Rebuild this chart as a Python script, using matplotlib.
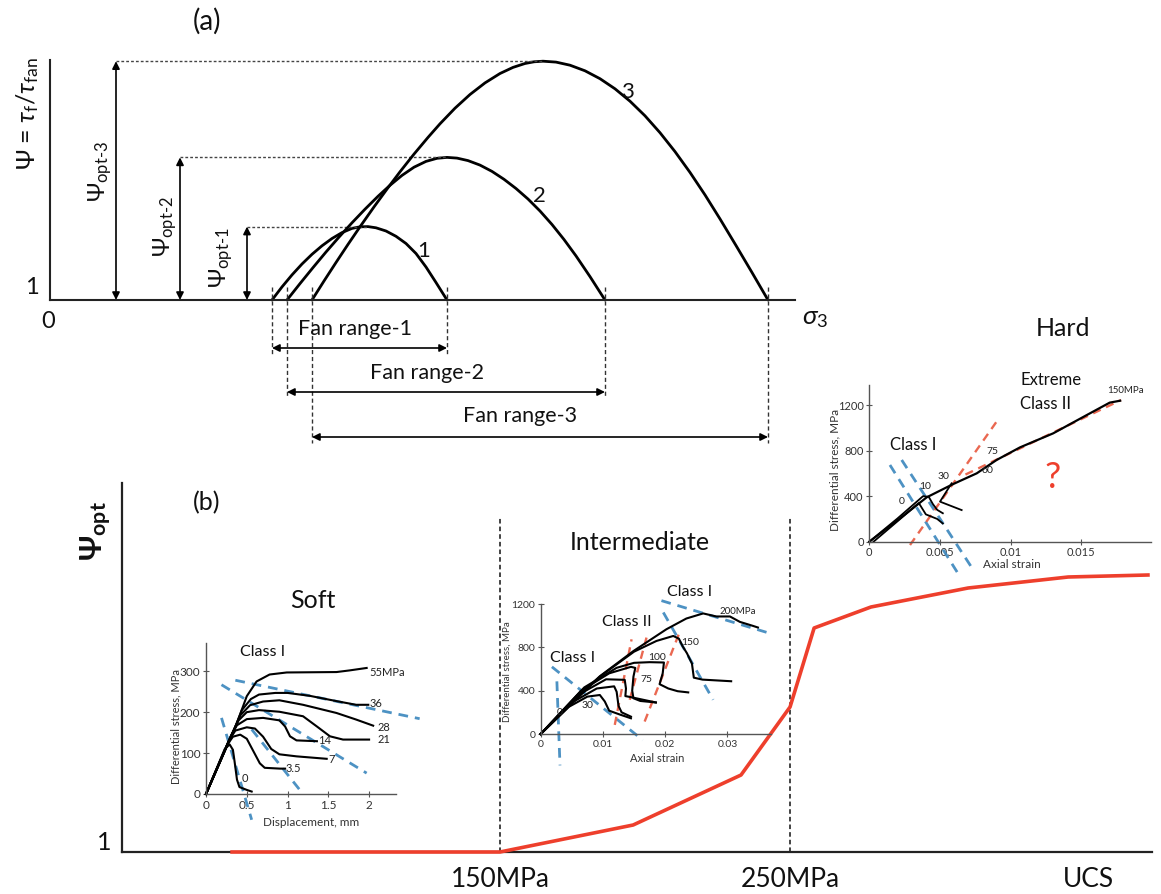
import matplotlib
matplotlib.use("Agg")
import matplotlib.pyplot as plt

W, H = 1161, 894
FONT = ['Lato', 'DejaVu Sans']
plt.rcParams['font.family'] = FONT
plt.rcParams['mathtext.fontset'] = 'custom'
plt.rcParams['mathtext.rm'] = 'Lato'
plt.rcParams['mathtext.it'] = 'Lato:italic'
plt.rcParams['mathtext.bf'] = 'Lato:bold'
plt.rcParams['mathtext.fallback'] = 'stixsans'

# ---------------- data: panel (a) ----------------
c1_s3 = [22.2, 23.2, 24.2, 25.2, 26.2, 27.2, 28.2, 29.2, 30.2, 31.0, 31.8, 32.6, 33.6, 34.6,
         35.6, 36.6, 37.6, 38.6, 39.7]
c1_psi = [1, 2.31, 3.51, 4.6, 5.57, 6.42, 7.15, 7.74, 8.16, 8.32, 8.34, 8.22, 7.9, 7.37,
          6.65, 5.65, 4.3, 2.75, 1]
c2_s3 = [23.7, 25.0, 26.3, 27.6, 28.9, 30.2, 31.5, 32.8, 34.0, 35.2, 36.4, 37.6, 38.7, 39.7,
         40.7, 41.8, 43.0, 44.2, 45.4, 46.6, 47.8, 49.0, 50.2, 51.4, 52.6, 54.0, 55.5]
c2_psi = [1, 2.64, 4.24, 5.8, 7.29, 8.72, 10.08, 11.37, 12.47, 13.46, 14.28, 14.86, 15.17, 15.26,
          15.19, 14.94, 14.49, 13.86, 13.07, 12.15, 11.1, 9.9, 8.55, 7.05, 5.41, 3.34, 1]
c3_s3 = [26.2, 27.4, 28.6, 29.8, 31.0, 32.4, 33.8, 35.0, 36.4, 37.8, 39.0, 40.5, 42.0, 43.5,
         45.0, 46.3, 47.5, 48.4, 49.3, 50.6, 52.0, 53.5, 55.0, 56.5, 58.0, 59.5, 61.0, 62.5,
         64.0, 65.5, 67.0, 68.6, 70.2, 71.8]
c3_psi = [1, 2.9, 4.75, 6.56, 8.32, 10.31, 12.23, 13.82, 15.59, 17.26, 18.62, 20.18, 21.55, 22.71,
          23.65, 24.26, 24.65, 24.82, 24.88, 24.79, 24.48, 23.92, 23.13, 22.12, 20.88, 19.42, 17.73,
          15.84, 13.76, 11.51, 9.11, 6.45, 3.75, 1]
curve_names = ['1', '2', '3']
fan_labels = ['Fan range-1', 'Fan range-2', 'Fan range-3']
opt_labels = [r'$\Psi_{\text{opt-1}}$', r'$\Psi_{\text{opt-2}}$', r'$\Psi_{\text{opt-3}}$']

# ---------------- data: panel (b) ----------------
ucs = [57.6, 150, 195.9, 233.1, 250, 258.3, 277.9, 311.4, 345.9, 373.4]
psi_opt = [1, 1, 3.7, 8.7, 15.5, 23.4, 25.5, 27.4, 28.5, 28.7]
b_ticks = [150, 250, 353]
b_ticklabels = ['150MPa', '250MPa', 'UCS']

# soft rock inset (displacement mm, differential stress MPa)
soft_curves = {
    '55MPa': ([0, 0.38, 0.5, 0.62, 0.78, 0.99, 1.6, 1.76, 1.97],
              [0, 174, 239, 275, 292, 297, 298, 302, 308]),
    '36': ([0, 0.36, 0.44, 0.55, 0.65, 0.85, 1.0, 1.27, 1.6, 1.84, 1.99],
           [0, 165, 205, 232, 243, 247, 247, 240, 227, 218, 218]),
    '28': ([0, 0.34, 0.42, 0.54, 0.7, 0.9, 1.19, 1.6, 1.84, 2.05],
           [0, 155, 192, 217, 226, 229, 218, 198, 182, 167]),
    '21': ([0, 0.32, 0.4, 0.5, 0.65, 0.9, 1.19, 1.36, 1.52, 1.68, 2.0],
           [0, 148, 180, 200, 205, 201, 190, 165, 141, 133, 133]),
    '14': ([0, 0.3, 0.38, 0.5, 0.7, 0.9, 0.97, 1.03, 1.11, 1.36],
           [0, 140, 168, 183, 186, 180, 165, 141, 131, 129]),
    '7': ([0, 0.28, 0.36, 0.5, 0.6, 0.7, 0.8, 0.9, 1.11, 1.48],
          [0, 130, 155, 163, 160, 140, 110, 97, 92, 86]),
    '3.5': ([0, 0.26, 0.33, 0.42, 0.5, 0.58, 0.66, 0.72, 0.91, 0.97],
            [0, 120, 140, 145, 135, 105, 75, 64, 62, 62]),
    '0': ([0, 0.23, 0.29, 0.33, 0.35, 0.38, 0.41, 0.5, 0.56],
          [0, 110, 121, 108, 80, 35, 17, 10, 6]),
}
soft_label_pos = {'55MPa': (2.0, 298), '36': (2.0, 222), '28': (2.1, 162), '21': (2.1, 133),
                  '14': (1.37, 131), '7': (1.5, 84), '3.5': (0.97, 63), '0': (0.44, 39)}
soft_blue = [([0.19, 1.97], [267, 51]), ([0.36, 2.62], [278, 184]),
             ([0.19, 0.56], [186, -63]), ([0.56, 1.19], [158, 0])]

# intermediate rock inset (axial strain, MPa)
int_curves = {
    '30': ([0, 0.0045, 0.0075, 0.0095, 0.0103, 0.011, 0.0128, 0.0145],
           [0, 250, 345, 360, 300, 215, 178, 145]),
    '50': ([0, 0.005, 0.009, 0.0118, 0.0122, 0.0125, 0.013, 0.0145],
           [0, 290, 420, 440, 390, 260, 200, 160]),
    '60': ([0, 0.006, 0.0105, 0.0135, 0.0137, 0.0136, 0.0145, 0.0185],
           [0, 360, 505, 500, 420, 350, 340, 291]),
    '75': ([0, 0.0065, 0.011, 0.0145, 0.0152, 0.0149, 0.0147, 0.0149, 0.016, 0.0185],
           [0, 400, 560, 620, 610, 530, 400, 330, 305, 291]),
    '100': ([0, 0.007, 0.0122, 0.015, 0.0175, 0.0198, 0.0196, 0.0191, 0.0205, 0.022, 0.0237],
            [0, 430, 611, 657, 663, 660, 560, 460, 420, 395, 384]),
    '150': ([0, 0.0095, 0.015, 0.0186, 0.0213, 0.0222, 0.0228, 0.0235, 0.0243, 0.0246, 0.026, 0.0306],
            [0, 530, 760, 859, 905, 880, 810, 745, 650, 520, 502, 487]),
    '200MPa': ([0, 0.0042, 0.0095, 0.0149, 0.0202, 0.0234, 0.0261, 0.0282, 0.0304, 0.032, 0.0341, 0.0349],
               [0, 254, 533, 766, 967, 1066, 1113, 1085, 1085, 1035, 998, 983]),
}
int_label_pos = {'200MPa': (0.0288, 1128), '150': (0.0226, 843), '100': (0.0173, 704),
                 '75': (0.016, 502), '30': (0.0066, 260), '0': (0.0026, 198)}
int_blue = [([0.0026, 0.0031], [486, -290]), ([0.0018, 0.0164], [620, -56]),
            ([0.0194, 0.0373], [1231, 921]), ([0.0197, 0.0277], [1122, 316])]
int_red = [([0.0119, 0.0146], [84, 874]), ([0.0143, 0.017], [316, 890]),
           ([0.0167, 0.0224], [115, 952])]

# hard rock inset
hard_main = ([0, 0.00217, 0.00406, 0.00594, 0.0076, 0.009, 0.01066, 0.013, 0.01538, 0.017, 0.01774],
             [0, 205, 390, 507, 601, 718, 829, 952, 1113, 1222, 1239])
hard_curves = [
    ([0.0003, 0.002, 0.0035, 0.0037, 0.004, 0.0048, 0.0052], [0, 180, 340, 300, 240, 200, 160]),
    ([0, 0.002, 0.0038, 0.0042, 0.0045, 0.0048, 0.0052], [0, 205, 400, 395, 330, 280, 250]),
    ([0.00582, 0.005, 0.00653], [513, 352, 278]),
]
hard_label_pos = {'150MPa': (0.0168, 1330), '75': (0.0083, 790), '60': (0.0079, 630),
                  '30': (0.0048, 571), '10': (0.0035, 483), '0': (0.0021, 352)}
hard_blue = [([0.00146, 0.00642], [674, -308]), ([0.00229, 0.00736], [718, -249])]
hard_red = [([0.00288, 0.009], [-29, 1055]), ([0.0068, 0.0178], [590, 1245])]

BLUE = '#3a86bd'
RED_D = '#e8583e'
RED = '#ee3f2c'
INK = '#111111'

fig = plt.figure(figsize=(W / 100, H / 100), dpi=100)


def px_axes(left, top, right, bottom, **kw):
    return fig.add_axes([left / W, 1 - bottom / H, (right - left) / W, (bottom - top) / H], **kw)


def ftext(x, y, s, **kw):
    kw.setdefault('ha', 'center')
    kw.setdefault('va', 'center')
    kw.setdefault('color', INK)
    return fig.text(x / W, 1 - y / H, s, **kw)


# ================= panel (a) =================
ax = px_axes(50, 60, 795, 300)
ax.set_xlim(0, 74.5)
ax.set_ylim(1, 25)
for s in ['top', 'right']:
    ax.spines[s].set_visible(False)
for s in ['left', 'bottom']:
    ax.spines[s].set_linewidth(1.5)
    ax.spines[s].set_color('#222222')
ax.set_xticks([])
ax.set_yticks([])
ax.patch.set_alpha(0)

curves = [(c1_s3, c1_psi), (c2_s3, c2_psi), (c3_s3, c3_psi)]
arrow_x = [19.7, 13.0, 6.6]
name_pos = [(37.4, 5.9), (48.9, 11.4), (57.7, 21.8)]
opt_lab_pos = [(17.1, 5.2), (11.5, 8.3), (5.0, 13.8)]
row_y = [-3.8, -8.2, -12.7]
fan_text_pos = [(30.5, -1.9), (37.7, -6.3), (47.0, -10.6)]
for i, (xs, ys) in enumerate(curves):
    ax.plot(xs, ys, color='k', lw=2.0, solid_capstyle='round', solid_joinstyle='round', clip_on=False)
    peak = max(ys)
    px = xs[ys.index(peak)]
    ax.plot([arrow_x[i], px], [peak, peak], color='#444444', lw=1.0, ls=(0, (2, 1.5)), clip_on=False)
    ax.annotate('', xy=(arrow_x[i], peak), xytext=(arrow_x[i], 1), annotation_clip=False,
                arrowprops=dict(arrowstyle='<|-|>', color='k', lw=1.2, mutation_scale=11,
                                shrinkA=0, shrinkB=0))
    ax.text(*name_pos[i], curve_names[i], fontsize=16, ha='center', va='center', color=INK)
    ax.text(*opt_lab_pos[i], opt_labels[i], fontsize=17, rotation=90, ha='center', va='center', color=INK)
    # fan range
    x0, x1 = xs[0], xs[-1]
    for xv in (x0, x1):
        ax.plot([xv, xv], [2.3, row_y[i] - 0.6], color='#333333', lw=1.0, ls=(0, (3, 2)), clip_on=False)
    ax.annotate('', xy=(x1, row_y[i]), xytext=(x0, row_y[i]), annotation_clip=False,
                arrowprops=dict(arrowstyle='<|-|>', color='k', lw=1.2, mutation_scale=11,
                                shrinkA=0, shrinkB=0))
    ax.text(*fan_text_pos[i], fan_labels[i], fontsize=15.5, ha='center', va='center', color=INK)

ax.text(-1.8, 2.2, '1', fontsize=17, ha='center', va='center', color=INK)
ax.text(-0.2, -1.2, '0', fontsize=17, ha='center', va='center', color=INK)
ax.text(76.5, -0.8, r'$\sigma_3$', fontsize=19, ha='center', va='center', color=INK)
ax.text(-2.2, 19.6, r'$\Psi$ = $\tau_{\mathrm{f}}$/$\tau_{\mathrm{fan}}$', fontsize=18, rotation=90,
        ha='center', va='center', color=INK)
ftext(207, 21, '(a)', fontsize=20)

# ================= panel (b) =================
bx = px_axes(122, 483, 1152, 852)
bx.set_xlim(19.66, 374.8)
bx.set_ylim(1, 37.9)
for s in ['top', 'right']:
    bx.spines[s].set_visible(False)
for s in ['left', 'bottom']:
    bx.spines[s].set_linewidth(1.6)
    bx.spines[s].set_color('#222222')
bx.set_yticks([])
bx.set_xticks(b_ticks)
bx.set_xticklabels(b_ticklabels, fontsize=19, color=INK)
bx.tick_params(axis='x', length=0, pad=11)
bx.plot(ucs, psi_opt, color=RED, lw=2.6, clip_on=False, zorder=3)
for xv in (150, 250):
    bx.plot([xv, xv], [1, 34.4], color='#111111', lw=1.1, ls=(0, (3, 2)))

ftext(104, 842, '1', fontsize=18)
ftext(96, 531, r'$\mathbf{\Psi}_{\mathbf{opt}}$', fontsize=22, rotation=90)
ftext(207, 503, '(b)', fontsize=18)
ftext(313, 600, 'Soft', fontsize=18)
ftext(640, 542, 'Intermediate', fontsize=18)
ftext(1063, 328, 'Hard', fontsize=18)


def inset(left, top, right, bottom, xlim, ylim, xt, xtl, yt, ytl, fs=8):
    a = px_axes(left, top, right, bottom)
    a.patch.set_alpha(0)
    a.set_xlim(*xlim)
    a.set_ylim(*ylim)
    for s in ['top', 'right']:
        a.spines[s].set_visible(False)
    for s in ['left', 'bottom']:
        a.spines[s].set_linewidth(1.0)
        a.spines[s].set_color('#555555')
    a.set_xticks(xt)
    a.set_xticklabels(xtl, fontsize=fs, color='#333333')
    a.set_yticks(yt)
    a.set_yticklabels(ytl, fontsize=fs, color='#333333')
    a.tick_params(direction='inout', length=5, width=0.8, color='#555555', pad=1.5)
    return a


# ---- soft
sa = inset(206, 643, 396, 794, (0, 2.33), (0, 369), [0, 0.5, 1, 1.5, 2], ['0', '0.5', '1', '1.5', '2'],
           [0, 100, 200, 300], ['0', '100', '200', '300'], fs=8.5)
for xs, ys in soft_blue:
    sa.plot(xs, ys, color=BLUE, lw=2.0, ls=(0, (3.5, 2.5)), clip_on=False, alpha=0.9)
for k, (xs, ys) in soft_curves.items():
    sa.plot(xs, ys, color='k', lw=1.5, clip_on=False)
    sa.text(*soft_label_pos[k], k, fontsize=8, ha='left', va='center', color='#222222')
ftext(311, 822, 'Displacement, mm', fontsize=8.5, color='#333333')
ftext(176, 727, 'Differential stress, MPa', fontsize=8, rotation=90, color='#333333')
ftext(263, 652, 'Class I', fontsize=11.5)

# ---- intermediate
ia = inset(540.7, 604, 771, 734, (0, 0.037), (0, 1200), [0, 0.01, 0.02, 0.03], ['0', '0.01', '0.02', '0.03'],
           [0, 400, 800, 1200], ['0', '400', '800', '1200'], fs=7.5)
for xs, ys in int_blue:
    ia.plot(xs, ys, color=BLUE, lw=2.0, ls=(0, (3.5, 2.5)), clip_on=False, alpha=0.9)
for xs, ys in int_red:
    ia.plot(xs, ys, color=RED_D, lw=1.7, ls=(0, (3.5, 2.5)), clip_on=False, alpha=0.9)
for k, (xs, ys) in int_curves.items():
    ia.plot(xs, ys, color='k', lw=1.5, clip_on=False)
for k, (x, y) in int_label_pos.items():
    ia.text(x, y, k, fontsize=7.5 if k != '200MPa' else 7, ha='left', va='center', color='#222222')
ftext(657, 758, 'Axial strain', fontsize=8, color='#333333')
ftext(507, 672, 'Differential stress, MPa', fontsize=7, rotation=90, color='#333333')
ftext(690, 592, 'Class I', fontsize=11.5)
ftext(627, 622, 'Class II', fontsize=11.5)
ftext(573, 658, 'Class I', fontsize=11.5)

# ---- hard
ha_ = inset(869.3, 385, 1150.7, 541.7, (0, 0.0199), (0, 1377), [0, 0.005, 0.01, 0.015],
            ['0', '0.005', '0.01', '0.015'], [0, 400, 800, 1200], ['0', '400', '800', '1200'], fs=8)
for xs, ys in hard_blue:
    ha_.plot(xs, ys, color=BLUE, lw=2.0, ls=(0, (3.5, 2.5)), clip_on=False, alpha=0.9)
for xs, ys in hard_red:
    ha_.plot(xs, ys, color=RED_D, lw=1.7, ls=(0, (3.5, 2.5)), clip_on=False, alpha=0.9)
ha_.plot(*hard_main, color='k', lw=1.6, clip_on=False)
for xs, ys in hard_curves:
    ha_.plot(xs, ys, color='k', lw=1.3, clip_on=False)
for k, (x, y) in hard_label_pos.items():
    ha_.text(x, y, k, fontsize=7.5 if k != '150MPa' else 7, ha='left', va='center', color='#222222')
ftext(1012, 565, 'Axial strain', fontsize=8.5, color='#333333')
ftext(835, 470, 'Differential stress, MPa', fontsize=8.5, rotation=90, color='#333333')
ftext(913, 445, 'Class I', fontsize=12)
ftext(1020, 380, 'Extreme', fontsize=12, ha='left')
ftext(1020, 404, 'Class II', fontsize=12, ha='left')
ftext(1053, 478, '?', fontsize=26, color=RED)

fig.savefig('out.png', dpi=100)
